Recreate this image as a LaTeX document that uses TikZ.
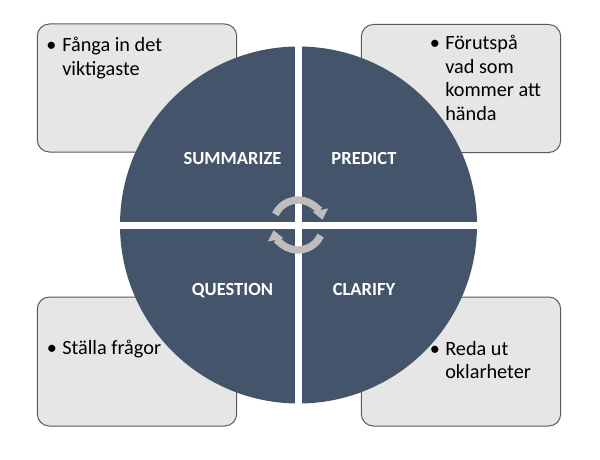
\documentclass[tikz,border=0pt]{standalone}
\usepackage{fontspec}
\setmainfont{Carlito}
\usetikzlibrary{arrows.meta}
\definecolor{discblue}{HTML}{44546A}
\definecolor{boxfill}{HTML}{E7E6E6}
\definecolor{boxline}{HTML}{5A5A5A}
\definecolor{cyclegray}{HTML}{BDBDBD}
\begin{document}
\begin{tikzpicture}[x=0.75pt,y=-0.75pt,
  notebox/.style={draw=boxline, line width=0.75pt, fill=boxfill, rounded corners=9pt,
    minimum width=149.5pt, minimum height=96pt, inner sep=0pt},
  bodytext/.style={anchor=base west, inner sep=0pt, align=left,
    font=\fontsize{15.2pt}{17.6pt}\selectfont, text=black},
  bulletmark/.style={anchor=base, inner sep=0pt, font=\fontsize{15.2pt}{17.6pt}\selectfont},
  quadlabel/.style={anchor=base, inner sep=0pt, text=white,
    font=\bfseries\fontsize{13.9pt}{16pt}\selectfont},
  cyclearrow/.style={draw=cyclegray, line width=5.5pt,
    -{Triangle[width=11.5pt,length=7.5pt]}},
  gapline/.style={draw=white, line width=5.25pt}]
\useasboundingbox (0,0) rectangle (600,460);
\fill[white] (0,0) rectangle (600,460);

% boxes
\node[notebox] (tl) at (137,88) {};
\node[notebox] (tr) at (461,88.5) {};
\node[notebox, minimum height=96.75pt] (bl) at (137,361.5) {};
\node[notebox, minimum height=96.75pt] (br) at (461,361.5) {};

% disc
\node[circle, fill=discblue, minimum size=267.75pt, inner sep=0pt, draw=none] (disc) at (298.5,225) {};
\draw[gapline] (disc.north) -- (disc.south);
\draw[gapline] (disc.west) -- (disc.east);

% quadrant labels
\node[quadlabel] (sum) at (232.5,164) {SUMMARIZE};
\node[quadlabel] (pre) at (364,164) {PREDICT};
\node[quadlabel] (que) at (232.5,295) {QUESTION};
\node[quadlabel] (cla) at (364,295) {CLARIFY};

% cycle arrows
\coordinate (hub) at (298,225);
\draw[cyclearrow] ([shift={(155:18.75pt)}]hub) arc[start angle=155, end angle=12, radius=18.75pt];
\draw[cyclearrow] ([shift={(-25:18.75pt)}]hub) arc[start angle=-25, end angle=-168, radius=18.75pt];

% box texts (multi-line nodes are placed by the baseline of their last line)
\node[bulletmark] (tlb) at (51.5,51.7) {\textbullet};
\node[bodytext] (tlt) at (62,75) {Fånga in det\\viktigaste};
\node[bulletmark] (trb) at (435,49.8) {\textbullet};
\node[bodytext] (trt) at (445,120.2) {Förutspå\\vad som\\kommer att\\hända};
\node[bulletmark] (blb) at (52,354) {\textbullet};
\node[bodytext] (blt) at (62,354) {Ställa frågor};
\node[bulletmark] (brb) at (435,355) {\textbullet};
\node[bodytext] (brt) at (445,378.5) {Reda ut\\oklarheter};
\end{tikzpicture}
\end{document}
